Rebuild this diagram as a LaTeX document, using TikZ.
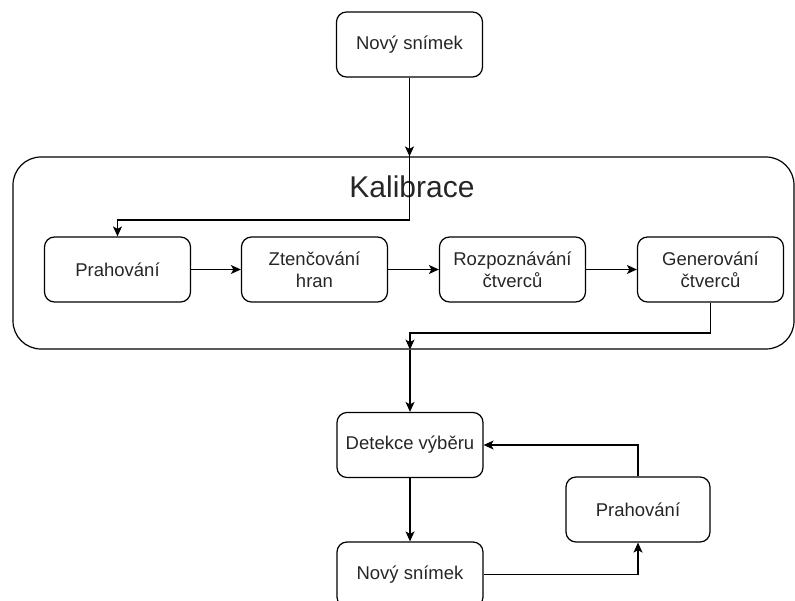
\documentclass[tikz,border=0pt]{standalone}
\usepackage{fontspec}
\setmainfont{Liberation Sans}
\usetikzlibrary{arrows.meta}
\tikzset{
  box/.style={draw, line width=1.2pt, rounded corners=10pt, minimum width=146pt, minimum height=65pt, inner sep=0pt, align=center, text=black!85, font=\fontsize{18.5}{21.7}\selectfont},
  container/.style={draw, line width=1.2pt, rounded corners=28pt, inner sep=0pt},
  arr/.style={line width=1.2pt, -{Stealth[length=10pt,width=9pt,inset=2.5pt]}},
  ln/.style={line width=1.2pt}
}
\begin{document}
\begin{tikzpicture}[x=1pt,y=-1pt]
\useasboundingbox (0,0) rectangle (795,601);
\clip (0,0) rectangle (795,601);
\node[container, minimum width=781pt, minimum height=192pt] (cal) at (403.5,253) {};
\node[text=black!85, font=\fontsize{30}{34}\selectfont] (caltitle) at (412,187) {Kalibrace};
\node[box] (n1) at (409.5,44.5) {Nový snímek};
\node[box] (p1) at (117.5,269.5) {Prahování};
\node[box] (z) at (314.5,269.5) {Ztenčování\\hran};
\node[box] (r) at (512.5,269.5) {Rozpoznávání\\čtverců};
\node[box] (g) at (710.5,269.5) {Generování\\čtverců};
\node[box] (d) at (410,445) {Detekce výběru};
\node[box] (n2) at (410,574.5) {Nový snímek};
\node[box, minimum width=144pt] (p2) at (638,509.5) {Prahování};
\coordinate (c1) at (409.5,220);
\coordinate (c2) at (410,333);
\draw[arr] (n1.south) -- (n1.south |- cal.north);
\draw[arr] (n1.south |- cal.north) -- (c1) -| (p1.north);
\draw[arr] (p1) -- (z);
\draw[arr] (z) -- (r);
\draw[arr] (r) -- (g);
\draw[arr] (g.south) |- (c2) -- (c2 |- cal.south);
\draw[arr] (c2 |- cal.south) -- (d.north);
\draw[arr] (d) -- (n2);
\draw[arr] (n2.east) -| (p2.south);
\draw[arr] (p2.north) |- (d.east);
\end{tikzpicture}
\end{document}
